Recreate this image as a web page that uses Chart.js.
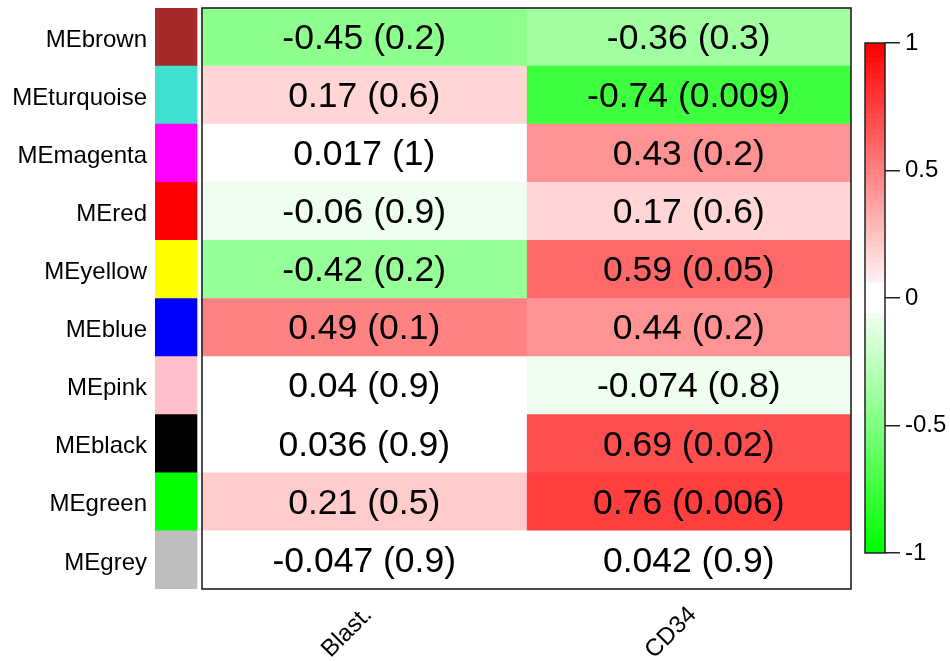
<!DOCTYPE html>
<html>
<head>
<meta charset="utf-8">
<script src="https://cdn.jsdelivr.net/npm/chart.js@4/dist/chart.umd.min.js"></script>
<style>
  html, body { margin: 0; padding: 0; background: #ffffff; }
  #wrap { position: relative; width: 950px; height: 661px; overflow: hidden; }
  #heat { position: absolute; left: 0; top: 0; }
  #bar { position: absolute; left: 855px; top: 0; }
</style>
</head>
<body>
<div id="wrap">
  <canvas id="heat" width="860" height="661"></canvas>
  <canvas id="bar" width="95" height="661"></canvas>
</div>
<script>
// Module eigengenes (rows) and traits (columns)
const modules = ['MEbrown', 'MEturquoise', 'MEmagenta', 'MEred', 'MEyellow',
                 'MEblue', 'MEpink', 'MEblack', 'MEgreen', 'MEgrey'];
const moduleColors = ['#A52A2A', '#40E0D0', '#FF00FF', '#FF0000', '#FFFF00',
                      '#0000FF', '#FFC0CB', '#000000', '#00FF00', '#BEBEBE'];
const traits = ['Blast.', 'CD34'];

// Module-trait correlations and p-values
const corBlast = [-0.45, 0.17, 0.017, -0.06, -0.42, 0.49, 0.04, 0.036, 0.21, -0.047];
const pBlast   = [0.2, 0.6, 1, 0.9, 0.2, 0.1, 0.9, 0.9, 0.5, 0.9];
const corCD34  = [-0.36, -0.74, 0.43, 0.17, 0.59, 0.44, -0.074, 0.69, 0.76, 0.042];
const pCD34    = [0.3, 0.009, 0.2, 0.6, 0.05, 0.2, 0.8, 0.02, 0.006, 0.9];

// Colour-key ticks
const keyTicks = [-1, -0.5, 0, 0.5, 1];

const corByTrait = [corBlast, corCD34];
const pByTrait = [pBlast, pCD34];

// Green-white-red palette: NCOL steps over [-1, 1], white in the middle steps
const NCOL = 100;
const WHITE_LO = 47, WHITE_HI = 52;
function palette(k) {
  let r, g, b;
  if (k < WHITE_LO) { r = b = k / (NCOL / 2 - 1); g = 1; }
  else if (k > WHITE_HI) { r = 1; g = b = (NCOL - 1 - k) / (NCOL / 2 - 1); }
  else { r = g = b = 1; }
  const c = v => Math.round(v * 255);
  return `rgb(${c(r)},${c(g)},${c(b)})`;
}
// right-closed bins (a, b]
function binOf(v) {
  const k = Math.ceil((v + 1) / 2 * NCOL) - 1;
  return Math.max(0, Math.min(NCOL - 1, k));
}
const corColor = v => palette(binOf(v));

const FONT = "'Liberation Sans', Arial, sans-serif";
const stripLeft = -0.1448, stripRight = -0.0154;

const datasets = [{
  label: 'module',
  data: modules.map(() => [stripLeft, stripRight]),
  backgroundColor: moduleColors
}];
traits.forEach((t, i) => {
  datasets.push({
    label: t,
    data: modules.map(() => [i, i + 1]),
    backgroundColor: corByTrait[i].map(corColor)
  });
});

const cellText = {
  id: 'cellText',
  afterDatasetsDraw(chart) {
    const ctx = chart.ctx;
    ctx.save();
    ctx.font = `35.5px ${FONT}`;
    ctx.fillStyle = '#000';
    ctx.textAlign = 'center';
    ctx.textBaseline = 'middle';
    traits.forEach((t, i) => {
      const meta = chart.getDatasetMeta(i + 1);
      meta.data.forEach((el, r) => {
        const cx = (el.x + el.base) / 2;
        ctx.fillText(`${corByTrait[i][r]} (${pByTrait[i][r]})`, cx, el.y + 2);
      });
    });
    ctx.restore();
  }
};

const frame = {
  id: 'frame',
  afterDraw(chart) {
    const { ctx, chartArea, scales } = chart;
    const x0 = scales.x.getPixelForValue(0);
    const x1 = scales.x.getPixelForValue(traits.length);
    ctx.save();
    ctx.strokeStyle = '#222';
    ctx.lineWidth = 1.6;
    ctx.strokeRect(x0, chartArea.top, x1 - x0, chartArea.bottom - chartArea.top);
    ctx.restore();
  }
};

new Chart(document.getElementById('heat'), {
  type: 'bar',
  data: { labels: modules, datasets },
  options: {
    indexAxis: 'y',
    responsive: false,
    animation: false,
    events: [],
    layout: { padding: { top: 8, left: 0, right: 9, bottom: 0 } },
    datasets: { bar: { grouped: false, barPercentage: 1, categoryPercentage: 1, borderWidth: 0 } },
    plugins: { legend: { display: false }, tooltip: { enabled: false } },
    scales: {
      y: {
        type: 'category',
        grid: { display: false, drawTicks: false },
        border: { display: false },
        ticks: { color: '#000', font: { family: FONT, size: 24 }, padding: 8, labelOffset: 3 },
        afterFit(s) { s.width = 155; s.paddingTop = 0; s.paddingBottom = 0; }
      },
      x: {
        type: 'linear',
        min: stripLeft,
        max: traits.length,
        grid: { display: false },
        border: { display: false },
        afterBuildTicks(s) { s.ticks = traits.map((t, i) => ({ value: i + 0.5 })); },
        ticks: {
          color: '#000',
          font: { family: FONT, size: 24 },
          minRotation: 45,
          maxRotation: 45,
          padding: 4,
          labelOffset: 4,
          callback: (v, i) => traits[i]
        },
        afterFit(s) { s.height = 72; s.paddingLeft = 0; s.paddingRight = 0; }
      }
    }
  },
  plugins: [cellText, frame]
});

// Colour key
const keyDatasets = [];
for (let k = 0; k < NCOL; k++) {
  const lo = -1 + k * 2 / NCOL, hi = -1 + (k + 1) * 2 / NCOL;
  keyDatasets.push({ data: [[lo, hi]], backgroundColor: palette(k) });
}
const keyFrame = {
  id: 'keyFrame',
  afterDraw(chart) {
    const { ctx, chartArea: a } = chart;
    ctx.save();
    ctx.strokeStyle = '#222';
    ctx.lineWidth = 1.5;
    ctx.strokeRect(a.left, a.top, a.right - a.left, a.bottom - a.top);
    ctx.restore();
  }
};
new Chart(document.getElementById('bar'), {
  type: 'bar',
  data: { labels: ['key'], datasets: keyDatasets },
  options: {
    responsive: false,
    animation: false,
    events: [],
    layout: { padding: { top: 43, left: 10, right: 0, bottom: 108 } },
    datasets: { bar: { grouped: false, barPercentage: 1, categoryPercentage: 1, borderWidth: 0 } },
    plugins: { legend: { display: false }, tooltip: { enabled: false } },
    scales: {
      x: { display: false },
      y: {
        position: 'right',
        min: keyTicks[0],
        max: keyTicks[keyTicks.length - 1],
        afterBuildTicks(s) { s.ticks = keyTicks.map(v => ({ value: v })); },
        grid: { drawOnChartArea: false, drawTicks: true, tickLength: 15, color: '#222', lineWidth: 1.5 },
        border: { display: false },
        ticks: { color: '#000', font: { family: FONT, size: 24 }, padding: 5, callback: v => String(v) },
        afterFit(s) { s.width = 65; s.paddingTop = 0; s.paddingBottom = 0; }
      }
    }
  },
  plugins: [keyFrame]
});
</script>
</body>
</html>
